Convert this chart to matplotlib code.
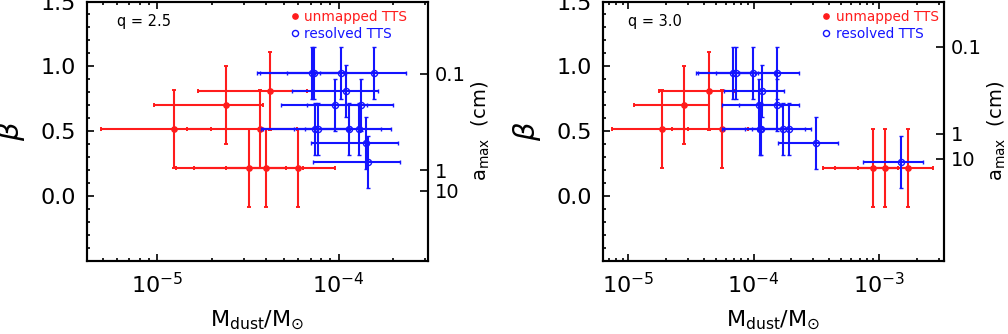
import numpy as np
import matplotlib.pyplot as plt
from matplotlib.lines import Line2D
from matplotlib.ticker import MultipleLocator, LogLocator, NullFormatter, FuncFormatter

# ---- data ----
q_labels = ['q = 2.5', 'q = 3.0']

beta_red = [0.52, 0.70, 0.81, 0.52, 0.22, 0.22, 0.22]
beta_blue = [0.95, 0.95, 0.95, 0.95, 0.81, 0.70, 0.70,
             0.52, 0.52, 0.52, 0.52, 0.41, 0.26]

mdust_red_q25 = [1.23e-5, 2.40e-5, 4.17e-5, 3.67e-5, 3.19e-5, 3.98e-5, 5.97e-5]
mdust_red_q30 = [1.87e-5, 2.77e-5, 4.39e-5, 5.62e-5, 8.9e-4, 1.11e-3, 1.69e-3]

mdust_blue_q25 = [7.13e-5, 7.34e-5, 1.033e-4, 1.57e-4, 1.10e-4, 9.58e-5, 1.33e-4,
                  7.43e-5, 7.69e-5, 1.14e-4, 1.30e-4, 1.41e-4, 1.45e-4]
mdust_blue_q30 = [6.89e-5, 7.20e-5, 9.95e-5, 1.53e-4, 1.16e-4, 1.11e-4, 1.53e-4,
                  1.12e-4, 1.15e-4, 1.71e-4, 1.93e-4, 3.13e-4, 1.49e-3]

# relative mass errors and beta errors
mfrac_red, mfrac_blue = 0.6, 0.5
berr_red, berr_blue = 0.3, 0.2

# a_max axis (cm) and the beta where each tick sits
amax_labels = ['0.1', '1', '10']
amax_beta_q25 = [0.945, 0.198, 0.042]
amax_beta_q30 = [1.15, 0.479, 0.287]

xlims = [(4.1e-6, 3.12e-4), (6.25e-6, 3.32e-3)]

red = '#ff1c1c'
blue = '#1414ff'

plt.rcParams['font.family'] = ['DejaVu Sans']

fig = plt.figure(figsize=(10.08, 3.34), dpi=100)
W, H = 1008., 334.
boxes = [(87, 1.5, 428.3, 261), (602.7, 1.5, 944.3, 261)]
leg_pos = [(0.598, 0.967), (0.645, 0.967)]
q_pos = [0.087, 0.074]
beta_lab_x = [-0.176, -0.175]
amax_lab_x = [1.122, 1.122]

panels = [
    (mdust_red_q25, mdust_blue_q25, amax_beta_q25),
    (mdust_red_q30, mdust_blue_q30, amax_beta_q30),
]


def beta_fmt(v, pos):
    if v < -0.01:
        return ''
    return '%.1f' % v


for i, (mr, mb, ab) in enumerate(panels):
    x0, y0, x1, y1 = boxes[i]
    ax = fig.add_axes([x0 / W, 1 - y1 / H, (x1 - x0) / W, (y1 - y0) / H])
    mr = np.array(mr)
    mb = np.array(mb)

    ax.errorbar(mr, beta_red, xerr=mfrac_red * mr, yerr=berr_red,
                fmt='o', color=red, ms=3.8, mec=red, elinewidth=1.5,
                capsize=1.7, capthick=1.4, zorder=2)
    ax.errorbar(mb, beta_blue, xerr=mfrac_blue * mb, yerr=berr_blue,
                fmt='o', color=blue, ms=4.4, mfc='none', mec=blue, mew=1.0,
                elinewidth=1.5, capsize=1.7, capthick=1.4, zorder=3)

    ax.set_xscale('log')
    ax.set_xlim(*xlims[i])
    ax.set_ylim(-0.5, 1.5)
    ax.yaxis.set_major_locator(MultipleLocator(0.5))
    ax.yaxis.set_minor_locator(MultipleLocator(0.1))
    ax.yaxis.set_major_formatter(FuncFormatter(beta_fmt))
    ax.xaxis.set_major_locator(LogLocator(base=10))
    ax.xaxis.set_minor_locator(LogLocator(base=10, subs=np.arange(2, 10)))
    ax.xaxis.set_minor_formatter(NullFormatter())
    ax.tick_params(which='both', direction='in', top=True, right=False,
                   labelsize=16, width=1.2)
    ax.tick_params(which='major', length=5, pad=8)
    ax.tick_params(which='minor', length=2.5)
    for s in ax.spines.values():
        s.set_linewidth(1.5)

    ax.set_xlabel(r'$\mathrm{M_{dust}/M_{\odot}}$', fontsize=16)
    ax.xaxis.set_label_coords(0.5, -0.185)
    ax.set_ylabel(r'$\beta$', fontsize=21)
    ax.yaxis.set_label_coords(beta_lab_x[i], 0.5)

    ax.text(q_pos[i], 0.922, q_labels[i], transform=ax.transAxes,
            fontsize=10.5, va='center', ha='left')

    handles = [
        Line2D([], [], ls='none', marker='o', ms=3.8, color=red),
        Line2D([], [], ls='none', marker='o', ms=4.4, mfc='none', mec=blue, mew=1.0),
    ]
    ax.legend(handles, ['unmapped TTS', 'resolved TTS'], loc='upper left',
              bbox_to_anchor=leg_pos[i], frameon=False, fontsize=9.8,
              handlelength=0.5, handletextpad=0.45, borderpad=0,
              borderaxespad=0, labelspacing=0.2, labelcolor=[red, blue])

    ax2 = ax.twinx()
    ax2.set_ylim(ax.get_ylim())
    ax2.set_yticks(ab)
    ax2.set_yticklabels(amax_labels)
    ax2.yaxis.set_minor_locator(plt.NullLocator())
    ax2.tick_params(direction='in', length=6, width=1.2, labelsize=14, pad=5)
    ax2.set_ylabel(r'$\mathrm{a_{max}}$  (cm)', fontsize=14)
    ax2.yaxis.set_label_coords(amax_lab_x[i], 0.5)
    for s in ax2.spines.values():
        s.set_linewidth(1.5)

fig.savefig('out.png', dpi=100)
